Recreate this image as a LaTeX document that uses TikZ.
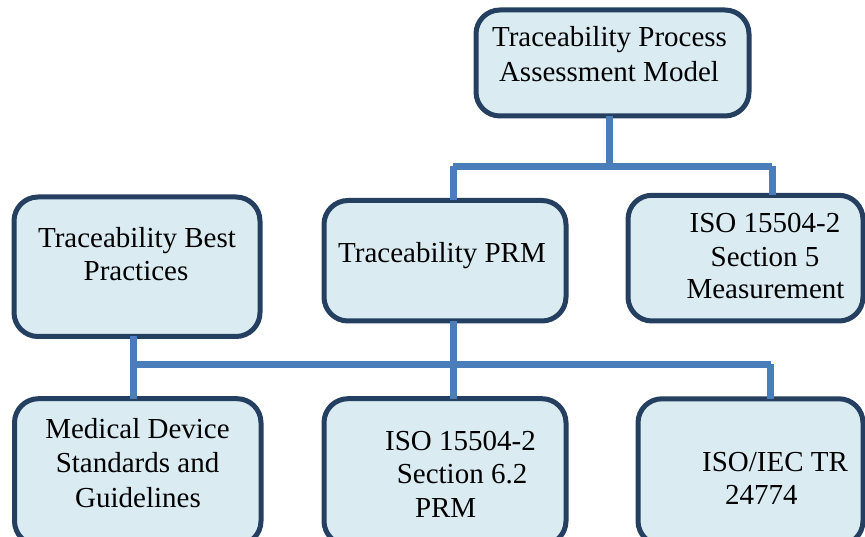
\documentclass[tikz,border=0pt]{standalone}
\usepackage{fontspec}
\setmainfont{Liberation Serif}
\definecolor{boxfill}{HTML}{DAECF2}
\definecolor{boxline}{HTML}{243F60}
\definecolor{conn}{HTML}{4A7EBB}
\tikzset{
  box/.style={draw=boxline, fill=boxfill, line width=5pt, rounded corners=24pt,
    rectangle, inner sep=0pt, outer sep=0pt},
  txt/.style={inner sep=0pt, outer sep=0pt, anchor=base, font=\fontsize{29}{33}\selectfont},
  txtl/.style={txt, anchor=base west},
  link/.style={draw=conn, line width=6.5pt}
}
\begin{document}
\begin{tikzpicture}[x=1pt, y=-1pt]
\useasboundingbox (0,0) rectangle (865,537);
\clip (0,0) rectangle (865,537);
% junction coordinates
\coordinate (jt) at (609.7,166.3);
\coordinate (jl) at (453.3,166.3);
\coordinate (jr) at (772.3,166.3);
\coordinate (kb) at (133.3,364.3);
\coordinate (km) at (453.3,364.3);
\coordinate (kr) at (770.5,364.3);
% boxes
\node[box, minimum width=273pt, minimum height=106pt] (tpam) at (612.5,63) {};
\node[box, minimum width=246pt, minimum height=139.5pt] (best) at (137,266.75) {};
\node[box, minimum width=242pt, minimum height=120.5pt] (prm) at (445,260.75) {};
\node[box, minimum width=235pt, minimum height=125.7pt] (sec5) at (745.5,258.15) {};
\node[box, minimum width=246.5pt, minimum height=146.3pt] (med) at (137.75,471.85) {};
\node[box, minimum width=242pt, minimum height=146.3pt] (iso62) at (445,471.85) {};
\node[box, minimum width=225pt, minimum height=146.2pt] (tr) at (750.5,471.9) {};
% connectors
\draw[link] (jt |- tpam.south) -- (jt);
\draw[link] (jl) -- (jr);
\draw[link] (jl) -- (jl |- prm.north);
\draw[link] (jr) -- (jr |- sec5.north);
\draw[link] (kb |- best.south) -- (kb |- med.north);
\draw[link] (kb) -- (kr);
\draw[link] (km |- prm.south) -- (km |- iso62.north);
\draw[link] (kr) -- (kr |- tr.north);
% texts
\node[txt] (tpam1) at (609.5,47) {Traceability Process};
\node[txt] (tpam2) at (609,82) {Assessment Model};
\node[txt] (best1) at (137,248) {Traceability Best};
\node[txt] (best2) at (136,281) {Practices};
\node[txt] (prm1) at (442,263) {Traceability PRM};
\node[txt] (sec51) at (765,233) {ISO 15504-2};
\node[txt] (sec52) at (765,267) {Section 5};
\node[txt] (sec53) at (765.5,299) {Measurement};
\node[txt] (med1) at (137.5,438) {Medical Device};
\node[txt] (med2) at (137.5,472) {Standards and};
\node[txt] (med3) at (138,507) {Guidelines};
\node[txt] (iso621) at (460.5,450) {ISO 15504-2};
\node[txt] (iso622) at (462,483) {Section 6.2};
\node[txtl] (iso623) at (415,517) {PRM};
\node[txt] (tr1) at (775,471) {ISO/IEC TR};
\node[txtl] (tr2) at (725,504) {24774};
\end{tikzpicture}
\end{document}
